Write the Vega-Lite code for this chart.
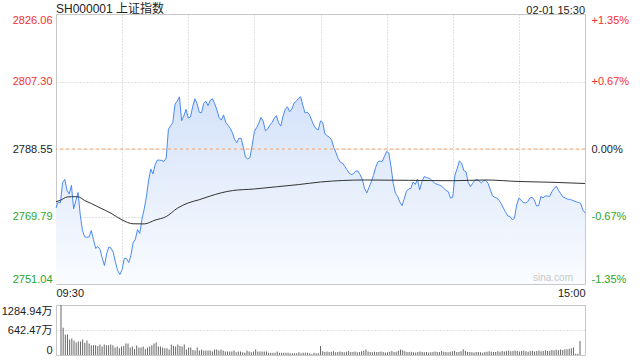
{
  "$schema": "https://vega.github.io/schema/vega-lite/v6.json",
  "background": "white",
  "padding": {"left": 0, "top": 2, "right": 10, "bottom": 4},
  "bounds": "flush",
  "spacing": 21,
  "config": {
    "font": "Liberation Sans, Noto Sans CJK SC",
    "view": {"stroke": "#c8c8c8"},
    "axis": {
      "labelFont": "Liberation Sans, Noto Sans CJK SC",
      "labelFontSize": 11,
      "labelColor": "#222",
      "ticks": false,
      "tickSize": 0,
      "domain": false,
      "gridColor": "#c4c4c4",
      "gridDash": [1, 2],
      "title": null
    }
  },
  "datasets": {
    "price": [
      {"t":0,"price":2772.16},{"t":1,"price":2773.82},{"t":2,"price":2773.55},{"t":3,"price":2779.21},{"t":4,"price":2780.13},
      {"t":5,"price":2776.99},{"t":6,"price":2776.05},{"t":7,"price":2778.44},{"t":8,"price":2771.94},{"t":9,"price":2774.13},
      {"t":10,"price":2776.46},{"t":11,"price":2770.27},{"t":12,"price":2765.88},{"t":13,"price":2764.16},{"t":14,"price":2764.02},
      {"t":15,"price":2764.10},{"t":16,"price":2765.91},{"t":17,"price":2763.41},{"t":18,"price":2760.93},{"t":19,"price":2761.46},
      {"t":20,"price":2760.63},{"t":21,"price":2758.18},{"t":22,"price":2756.18},{"t":23,"price":2759.46},{"t":24,"price":2761.35},
      {"t":25,"price":2760.99},{"t":26,"price":2759.79},{"t":27,"price":2756.99},{"t":28,"price":2754.74},{"t":29,"price":2753.68},
      {"t":30,"price":2755.04},{"t":31,"price":2758.18},{"t":32,"price":2758.10},{"t":33,"price":2756.99},{"t":34,"price":2759.02},
      {"t":35,"price":2762.54},{"t":36,"price":2763.49},{"t":37,"price":2766.13},{"t":38,"price":2765.07},{"t":39,"price":2769.07},
      {"t":40,"price":2771.82},{"t":41,"price":2775.19},{"t":42,"price":2779.72},{"t":43,"price":2782.97},{"t":44,"price":2781.60},
      {"t":45,"price":2784.24},{"t":46,"price":2785.49},{"t":47,"price":2785.45},{"t":48,"price":2785.38},{"t":49,"price":2785.08},
      {"t":50,"price":2786.05},{"t":51,"price":2794.05},{"t":52,"price":2795.00},{"t":53,"price":2795.91},{"t":54,"price":2801.03},
      {"t":55,"price":2801.83},{"t":56,"price":2803.05},{"t":57,"price":2796.44},{"t":58,"price":2797.72},{"t":59,"price":2799.58},
      {"t":60,"price":2797.14},{"t":61,"price":2797.44},{"t":62,"price":2800.28},{"t":63,"price":2802.50},{"t":64,"price":2801.17},
      {"t":65,"price":2798.78},{"t":66,"price":2798.61},{"t":67,"price":2801.22},{"t":68,"price":2801.86},{"t":69,"price":2800.58},
      {"t":70,"price":2802.11},{"t":71,"price":2802.50},{"t":72,"price":2801.14},{"t":73,"price":2799.44},{"t":74,"price":2797.28},
      {"t":75,"price":2796.58},{"t":76,"price":2798.03},{"t":77,"price":2795.97},{"t":78,"price":2795.19},{"t":79,"price":2794.30},
      {"t":80,"price":2793.14},{"t":81,"price":2791.25},{"t":82,"price":2790.30},{"t":83,"price":2791.55},{"t":84,"price":2791.50},
      {"t":85,"price":2789.02},{"t":86,"price":2786.27},{"t":87,"price":2785.80},{"t":88,"price":2786.20},{"t":89,"price":2789.58},
      {"t":90,"price":2793.41},{"t":91,"price":2794.47},{"t":92,"price":2795.69},{"t":93,"price":2797.28},{"t":94,"price":2796.30},
      {"t":95,"price":2793.64},{"t":96,"price":2794.08},{"t":97,"price":2795.16},{"t":98,"price":2795.91},{"t":99,"price":2797.08},
      {"t":100,"price":2797.83},{"t":101,"price":2795.83},{"t":102,"price":2794.91},{"t":103,"price":2797.64},{"t":104,"price":2799.55},
      {"t":105,"price":2800.28},{"t":106,"price":2798.89},{"t":107,"price":2799.66},{"t":108,"price":2801.33},{"t":109,"price":2801.83},
      {"t":110,"price":2802.58},{"t":111,"price":2803.05},{"t":112,"price":2800.64},{"t":113,"price":2798.58},{"t":114,"price":2798.80},
      {"t":115,"price":2798.11},{"t":116,"price":2796.50},{"t":117,"price":2795.16},{"t":118,"price":2794.16},{"t":119,"price":2793.91},
      {"t":120,"price":2796.33},{"t":121,"price":2795.91},{"t":122,"price":2792.77},{"t":123,"price":2792.25},{"t":124,"price":2791.80},
      {"t":125,"price":2791.11},{"t":126,"price":2789.00},{"t":127,"price":2787.55},{"t":128,"price":2785.91},{"t":129,"price":2784.88},
      {"t":130,"price":2784.61},{"t":131,"price":2783.74},{"t":132,"price":2782.80},{"t":133,"price":2781.85},{"t":134,"price":2781.44},
      {"t":135,"price":2781.72},{"t":136,"price":2782.44},{"t":137,"price":2782.40},{"t":138,"price":2781.38},{"t":139,"price":2780.10},
      {"t":140,"price":2777.55},{"t":141,"price":2776.33},{"t":142,"price":2777.88},{"t":143,"price":2779.38},{"t":144,"price":2781.19},
      {"t":145,"price":2783.38},{"t":146,"price":2784.97},{"t":147,"price":2785.19},{"t":148,"price":2785.05},{"t":149,"price":2786.47},
      {"t":150,"price":2787.88},{"t":151,"price":2787.44},{"t":152,"price":2783.63},{"t":153,"price":2778.99},{"t":154,"price":2776.24},
      {"t":155,"price":2775.35},{"t":156,"price":2773.82},{"t":157,"price":2772.80},{"t":158,"price":2774.77},{"t":159,"price":2776.80},
      {"t":160,"price":2777.46},{"t":161,"price":2777.63},{"t":162,"price":2779.38},{"t":163,"price":2778.71},{"t":164,"price":2780.13},
      {"t":165,"price":2777.21},{"t":166,"price":2779.44},{"t":167,"price":2780.88},{"t":168,"price":2780.66},{"t":169,"price":2780.41},
      {"t":170,"price":2780.16},{"t":171,"price":2779.49},{"t":172,"price":2778.94},{"t":173,"price":2778.74},{"t":174,"price":2778.52},
      {"t":175,"price":2778.21},{"t":176,"price":2777.60},{"t":177,"price":2777.02},{"t":178,"price":2776.69},{"t":179,"price":2774.88},
      {"t":180,"price":2775.16},{"t":181,"price":2781.33},{"t":182,"price":2783.08},{"t":183,"price":2785.22},{"t":184,"price":2784.66},
      {"t":185,"price":2782.58},{"t":186,"price":2782.24},{"t":187,"price":2779.30},{"t":188,"price":2778.08},{"t":189,"price":2778.99},
      {"t":190,"price":2779.85},{"t":191,"price":2780.08},{"t":192,"price":2779.63},{"t":193,"price":2779.13},{"t":194,"price":2779.74},
      {"t":195,"price":2779.83},{"t":196,"price":2779.02},{"t":197,"price":2777.33},{"t":198,"price":2775.55},{"t":199,"price":2775.13},
      {"t":200,"price":2774.94},{"t":201,"price":2774.30},{"t":202,"price":2773.35},{"t":203,"price":2772.10},{"t":204,"price":2770.96},
      {"t":205,"price":2769.93},{"t":206,"price":2769.80},{"t":207,"price":2768.91},{"t":208,"price":2769.30},{"t":209,"price":2772.99},
      {"t":210,"price":2774.88},{"t":211,"price":2774.32},{"t":212,"price":2773.66},{"t":213,"price":2773.57},{"t":214,"price":2773.91},
      {"t":215,"price":2774.96},{"t":216,"price":2775.13},{"t":217,"price":2774.38},{"t":218,"price":2772.71},{"t":219,"price":2772.80},
      {"t":220,"price":2775.38},{"t":221,"price":2774.99},{"t":222,"price":2775.49},{"t":223,"price":2775.45},{"t":224,"price":2775.38},
      {"t":225,"price":2776.69},{"t":226,"price":2777.63},{"t":227,"price":2778.19},{"t":228,"price":2777.08},{"t":229,"price":2776.10},
      {"t":230,"price":2775.24},{"t":231,"price":2774.94},{"t":232,"price":2774.63},{"t":233,"price":2774.52},{"t":234,"price":2774.38},
      {"t":235,"price":2774.13},{"t":236,"price":2773.88},{"t":237,"price":2773.69},{"t":238,"price":2773.49},{"t":239,"price":2771.60},
      {"t":240,"price":2770.77}
    ],
    "avg": [
      {"t":0,"avg":2773.91},{"t":2,"avg":2774.30},{"t":5,"avg":2775.21},{"t":7,"avg":2775.30},{"t":10,"avg":2775.27},
      {"t":13,"avg":2774.24},{"t":16,"avg":2773.41},{"t":20,"avg":2772.19},{"t":25,"avg":2770.69},{"t":30,"avg":2768.82},
      {"t":35,"avg":2767.77},{"t":40,"avg":2767.74},{"t":45,"avg":2768.80},{"t":50,"avg":2769.77},{"t":55,"avg":2772.07},
      {"t":60,"avg":2773.57},{"t":65,"avg":2774.46},{"t":70,"avg":2775.49},{"t":75,"avg":2776.38},{"t":80,"avg":2776.99},
      {"t":90,"avg":2777.44},{"t":100,"avg":2778.05},{"t":110,"avg":2778.66},{"t":120,"avg":2779.38},{"t":130,"avg":2779.80},
      {"t":140,"avg":2779.94},{"t":160,"avg":2779.85},{"t":180,"avg":2779.74},{"t":195,"avg":2779.94},{"t":210,"avg":2779.52},
      {"t":225,"avg":2779.30},{"t":240,"avg":2778.97}
    ],
    "vol": [
      {"t":0,"v":1284.94},{"t":1,"v":703},{"t":2,"v":530},{"t":3,"v":530},{"t":4,"v":399},{"t":5,"v":425},{"t":6,"v":373},{"t":7,"v":321},{"t":8,"v":347},{"t":9,"v":347},
      {"t":10,"v":399},{"t":11,"v":312},{"t":12,"v":373},{"t":13,"v":295},{"t":14,"v":252},{"t":15,"v":252},{"t":16,"v":252},{"t":17,"v":234},{"t":18,"v":269},{"t":19,"v":217},
      {"t":20,"v":269},{"t":21,"v":252},{"t":22,"v":252},{"t":23,"v":269},{"t":24,"v":252},{"t":25,"v":191},{"t":26,"v":217},{"t":27,"v":174},{"t":28,"v":217},{"t":29,"v":234},
      {"t":30,"v":295},{"t":31,"v":295},{"t":32,"v":191},{"t":33,"v":217},{"t":34,"v":156},{"t":35,"v":243},{"t":36,"v":191},{"t":37,"v":191},{"t":38,"v":217},{"t":39,"v":156},
      {"t":40,"v":191},{"t":41,"v":217},{"t":42,"v":243},{"t":43,"v":295},{"t":44,"v":321},{"t":45,"v":217},{"t":46,"v":217},{"t":47,"v":191},{"t":48,"v":174},{"t":49,"v":174},
      {"t":50,"v":139},{"t":51,"v":269},{"t":52,"v":234},{"t":53,"v":217},{"t":54,"v":269},{"t":55,"v":234},{"t":56,"v":217},{"t":57,"v":269},{"t":58,"v":139},{"t":59,"v":191},
      {"t":60,"v":191},{"t":61,"v":130},{"t":62,"v":113},{"t":63,"v":191},{"t":64,"v":113},{"t":65,"v":139},{"t":66,"v":113},{"t":67,"v":113},{"t":68,"v":113},{"t":69,"v":113},
      {"t":70,"v":87},{"t":71,"v":139},{"t":72,"v":139},{"t":73,"v":113},{"t":74,"v":139},{"t":75,"v":113},{"t":76,"v":87},{"t":77,"v":87},{"t":78,"v":87},{"t":79,"v":87},
      {"t":80,"v":113},{"t":81,"v":69},{"t":82,"v":87},{"t":83,"v":87},{"t":84,"v":69},{"t":85,"v":61},{"t":86,"v":113},{"t":87,"v":87},{"t":88,"v":69},{"t":89,"v":87},
      {"t":90,"v":139},{"t":91,"v":87},{"t":92,"v":87},{"t":93,"v":87},{"t":94,"v":87},{"t":95,"v":87},{"t":96,"v":61},{"t":97,"v":61},{"t":98,"v":61},{"t":99,"v":61},
      {"t":100,"v":87},{"t":101,"v":61},{"t":102,"v":61},{"t":103,"v":61},{"t":104,"v":61},{"t":105,"v":61},{"t":106,"v":43},{"t":107,"v":43},{"t":108,"v":43},{"t":109,"v":43},
      {"t":110,"v":69},{"t":111,"v":43},{"t":112,"v":61},{"t":113,"v":61},{"t":114,"v":61},{"t":115,"v":43},{"t":116,"v":26},{"t":117,"v":61},{"t":118,"v":43},{"t":119,"v":43},
      {"t":120,"v":230},{"t":121,"v":95},{"t":122,"v":80},{"t":123,"v":90},{"t":124,"v":75},{"t":125,"v":85},{"t":126,"v":95},{"t":127,"v":70},{"t":128,"v":80},{"t":129,"v":90},
      {"t":130,"v":75},{"t":131,"v":70},{"t":132,"v":85},{"t":133,"v":100},{"t":134,"v":80},{"t":135,"v":75},{"t":136,"v":90},{"t":137,"v":70},{"t":138,"v":80},{"t":139,"v":95},
      {"t":140,"v":110},{"t":141,"v":140},{"t":142,"v":90},{"t":143,"v":80},{"t":144,"v":70},{"t":145,"v":85},{"t":146,"v":75},{"t":147,"v":80},{"t":148,"v":90},{"t":149,"v":75},
      {"t":150,"v":65},{"t":151,"v":70},{"t":152,"v":85},{"t":153,"v":100},{"t":154,"v":75},{"t":155,"v":85},{"t":156,"v":110},{"t":157,"v":140},{"t":158,"v":125},{"t":159,"v":95},
      {"t":160,"v":80},{"t":161,"v":75},{"t":162,"v":85},{"t":163,"v":70},{"t":164,"v":65},{"t":165,"v":80},{"t":166,"v":90},{"t":167,"v":75},{"t":168,"v":70},{"t":169,"v":80},
      {"t":170,"v":65},{"t":171,"v":70},{"t":172,"v":80},{"t":173,"v":90},{"t":174,"v":75},{"t":175,"v":80},{"t":176,"v":100},{"t":177,"v":85},{"t":178,"v":75},{"t":179,"v":70},
      {"t":180,"v":85},{"t":181,"v":95},{"t":182,"v":110},{"t":183,"v":75},{"t":184,"v":80},{"t":185,"v":95},{"t":186,"v":145},{"t":187,"v":105},{"t":188,"v":80},{"t":189,"v":75},
      {"t":190,"v":70},{"t":191,"v":65},{"t":192,"v":75},{"t":193,"v":80},{"t":194,"v":70},{"t":195,"v":60},{"t":196,"v":75},{"t":197,"v":85},{"t":198,"v":95},{"t":199,"v":85},
      {"t":200,"v":75},{"t":201,"v":80},{"t":202,"v":95},{"t":203,"v":85},{"t":204,"v":100},{"t":205,"v":90},{"t":206,"v":105},{"t":207,"v":115},{"t":208,"v":95},{"t":209,"v":100},
      {"t":210,"v":115},{"t":211,"v":105},{"t":212,"v":90},{"t":213,"v":100},{"t":214,"v":115},{"t":215,"v":95},{"t":216,"v":85},{"t":217,"v":100},{"t":218,"v":110},{"t":219,"v":90},
      {"t":220,"v":100},{"t":221,"v":115},{"t":222,"v":95},{"t":223,"v":105},{"t":224,"v":125},{"t":225,"v":100},{"t":226,"v":110},{"t":227,"v":130},{"t":228,"v":115},{"t":229,"v":135},
      {"t":230,"v":120},{"t":231,"v":140},{"t":232,"v":130},{"t":233,"v":150},{"t":234,"v":145},{"t":235,"v":160},{"t":236,"v":175},{"t":237,"v":190},{"t":238,"v":35},{"t":239,"v":30},
      {"t":240,"v":360}
    ]
  },
  "vconcat": [
    {
      "width": 529,
      "height": 270,
      "layer": [
        {
          "layer": [
            {
              "data": {"name": "price"},
              "mark": {"type": "area", "color": {"gradient": "linear", "x1": 0, "y1": 0, "x2": 0, "y2": 1, "stops": [{"offset": 0, "color": "#d4e2f9"}, {"offset": 1, "color": "#fafcff"}]}},
              "encoding": {
                "x": {"field": "t", "type": "quantitative", "scale": {"domain": [0, 240], "nice": false, "zero": false},
                  "axis": {"values": [0, 30, 60, 90, 120, 150, 180, 210, 240], "labelExpr": "datum.value == 0 ? '09:30' : datum.value == 240 ? '15:00' : ''", "labelFlush": true, "labelPadding": 3, "labelOverlap": false, "grid": true, "gridOpacity": {"condition": {"test": "datum.value == 0 || datum.value == 240", "value": 0}, "value": 1}}},
                "y": {"field": "price", "type": "quantitative", "scale": {"domain": [2751.04, 2826.06], "nice": false, "zero": false},
                  "axis": {"values": [2751.04, 2769.79, 2788.55, 2807.30, 2826.06], "format": ".2f", "labelFlush": true, "labelPadding": 4, "grid": true,
                    "gridOpacity": {"condition": {"test": "datum.value < 2760 || datum.value > 2820", "value": 0}, "value": 1},
                    "labelColor": {"condition": [{"test": "datum.value > 2790", "value": "#f23030"}, {"test": "datum.value < 2787", "value": "#2aa52a"}], "value": "#222"}}},
                "y2": {"datum": 2751.04}
              }
            },
            {
              "data": {"name": "price"},
              "mark": {"type": "line", "color": "#4a89f3", "strokeWidth": 1},
              "encoding": {"x": {"field": "t", "type": "quantitative"}, "y": {"field": "price", "type": "quantitative"}}
            },
            {
              "data": {"name": "avg"},
              "mark": {"type": "line", "color": "#333333", "strokeWidth": 1, "interpolate": "monotone"},
              "encoding": {"x": {"field": "t", "type": "quantitative"}, "y": {"field": "avg", "type": "quantitative"}}
            },
            {
              "data": {"values": [{"label": "sina.com"}]},
              "mark": {"type": "text", "align": "right", "baseline": "bottom", "dx": -12, "dy": -1, "fontSize": 10, "color": "#c8c8c8", "font": "Liberation Sans"},
              "encoding": {"x": {"datum": 240}, "y": {"datum": 2751.04}, "text": {"field": "label"}}
            },
            {
              "data": {"values": [{"label": "02-01 15:30"}]},
              "mark": {"type": "text", "align": "right", "baseline": "bottom", "dy": 2, "fontSize": 11, "color": "#222", "font": "Liberation Sans"},
              "encoding": {"x": {"datum": 240}, "y": {"datum": 2826.06}, "text": {"field": "label"}}
            },
            {
              "data": {"values": [{"label": "SH000001 上证指数"}]},
              "mark": {"type": "text", "align": "left", "baseline": "bottom", "dy": 2, "fontSize": 12, "color": "#222", "font": "Liberation Sans, Noto Sans CJK SC"},
              "encoding": {"x": {"datum": 0}, "y": {"datum": 2826.06}, "text": {"field": "label"}}
            }
          ]
        },
        {
          "data": {"values": [{"prev": 2788.55}]},
          "mark": {"type": "rule", "color": "#f2a26c", "strokeDash": [3, 3], "strokeWidth": 1},
          "encoding": {
            "y": {"field": "prev", "type": "quantitative", "scale": {"domain": [2751.04, 2826.06], "nice": false, "zero": false},
              "axis": {"orient": "right", "values": [2751.04, 2769.79, 2788.55, 2807.30, 2826.06], "labelFlush": true, "labelPadding": 6, "grid": false,
                "labelExpr": "datum.value > 2820 ? '+1.35%' : datum.value > 2800 ? '+0.67%' : datum.value > 2780 ? '0.00%' : datum.value > 2760 ? '-0.67%' : '-1.35%'",
                "labelColor": {"condition": [{"test": "datum.value > 2790", "value": "#f23030"}, {"test": "datum.value < 2787", "value": "#2aa52a"}], "value": "#222"}}}
          }
        }
      ],
      "resolve": {"scale": {"y": "independent"}}
    },
    {
      "width": 529,
      "height": 50,
      "data": {"name": "vol"},
      "mark": {"type": "bar", "color": "#666666", "size": 1},
      "encoding": {
        "x": {"field": "t", "type": "quantitative", "scale": {"domain": [0, 240], "nice": false, "zero": false}, "axis": null},
        "y": {"field": "v", "type": "quantitative", "scale": {"domain": [0, 1284.94], "nice": false},
          "axis": {"values": [0, 642.47, 1284.94], "labelExpr": "datum.value == 0 ? '0' : format(datum.value, '.2f') + '万'", "labelFlush": true, "labelPadding": 4, "grid": true,
            "gridOpacity": {"condition": {"test": "datum.value == 0", "value": 0}, "value": 1}}}
      }
    }
  ]
}
